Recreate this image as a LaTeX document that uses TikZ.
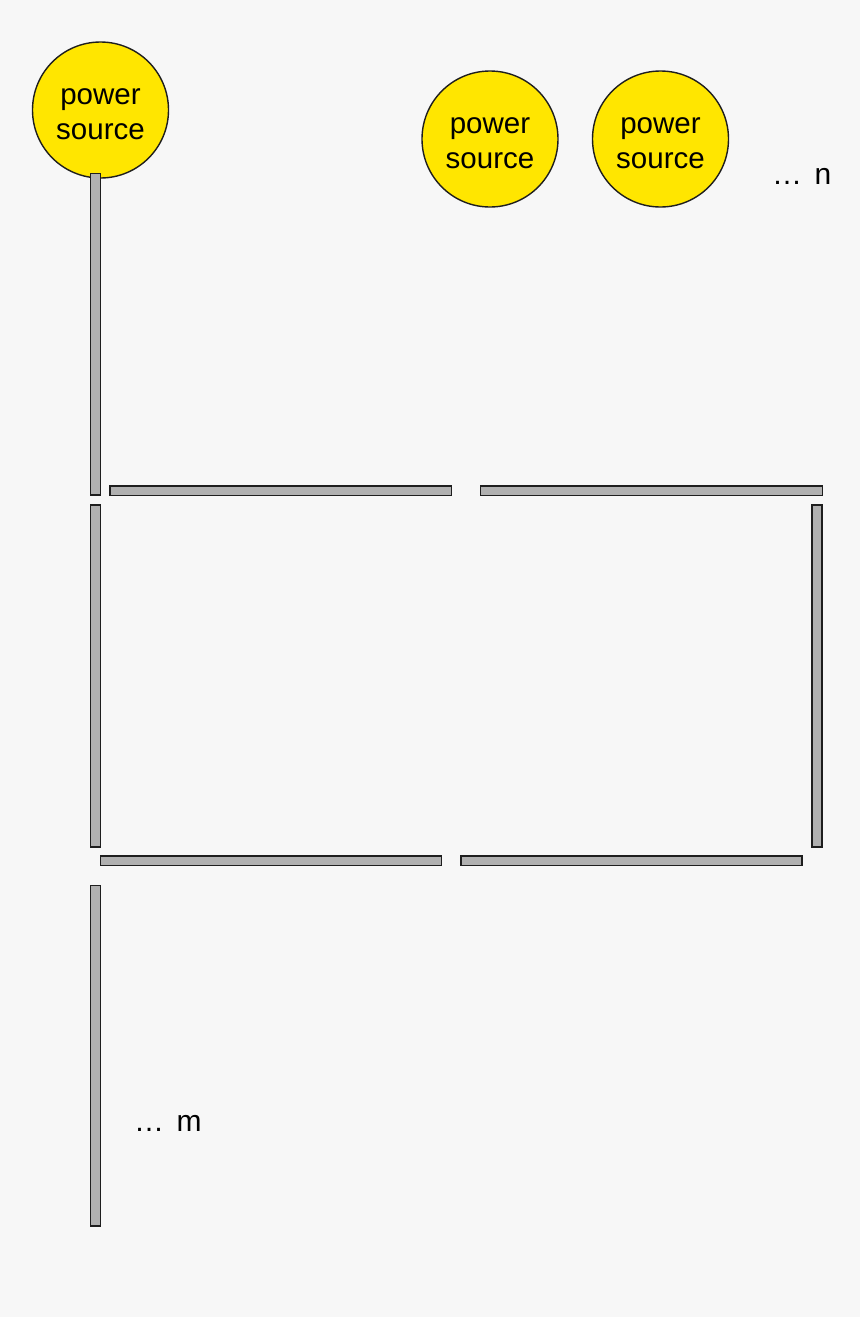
\documentclass[tikz,border=0pt]{standalone}
\usepackage{fontspec}
\setmainfont{Liberation Sans}
\definecolor{bg}{HTML}{F7F7F7}
\definecolor{src}{HTML}{FFE600}
\definecolor{barfill}{HTML}{B0B0B0}
\definecolor{ink}{HTML}{1E1E1E}
\begin{document}
\begin{tikzpicture}[x=1pt,y=-1pt,
  source/.style={circle,draw=ink,line width=1.4pt,fill=src,minimum size=136pt,inner sep=0pt},
  srctext/.style={align=center,inner sep=0pt,yshift=-4pt,font=\fontsize{29.5}{35}\selectfont},
  bar/.style={draw=ink,line width=1.6pt,fill=barfill},
  lbl/.style={font=\fontsize{30}{35}\selectfont,inner sep=0pt,anchor=base west}]
\fill[bg] (0,0) rectangle (860,1317);
\useasboundingbox (0,0) rectangle (860,1317);
% sources
\node[source] (s1) at (100.5,110) {};
\node[srctext] (s1t) at (s1.center) {power\\source};
\node[source] (s2) at (490,139) {};
\node[srctext] (s2t) at (s2.center) {power\\source};
\node[source] (s3) at (660.5,139) {};
\node[srctext] (s3t) at (s3.center) {power\\source};
% wires
\draw[bar] (90.5,173.5) rectangle (100.5,495);
\draw[bar] (110,486) rectangle (451.5,495.5);
\draw[bar] (480.5,486) rectangle (822.5,495.5);
\draw[bar] (90.5,505) rectangle (100.5,847);
\draw[bar] (812,505) rectangle (822,847);
\draw[bar] (100.5,856) rectangle (441.5,865.5);
\draw[bar] (461,856) rectangle (802,865.5);
\draw[bar] (90.5,885.5) rectangle (100.5,1226);
\node[lbl] (n) at (772,184) {…\ \hspace{4pt}n};
\node[lbl] (m) at (134,1131) {…\ \hspace{4pt}m};
\end{tikzpicture}
\end{document}
